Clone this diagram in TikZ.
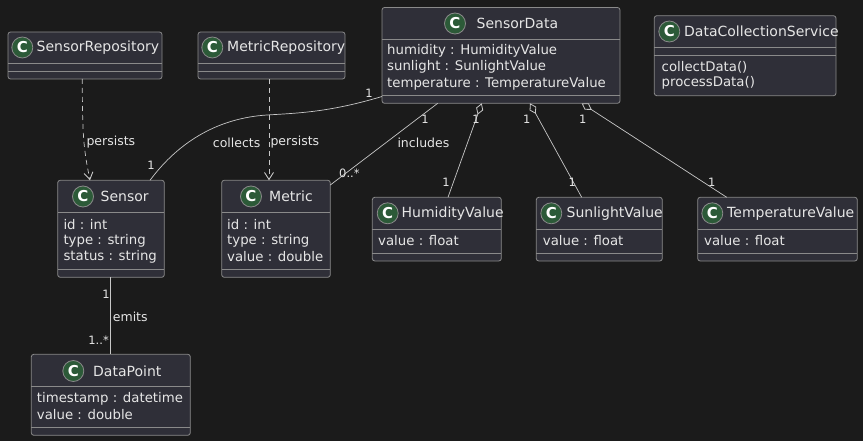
\documentclass[tikz,border=0pt]{standalone}
\usepackage{fontspec}
\setmainfont{DejaVu Sans}
\usetikzlibrary{arrows.meta}
\definecolor{bg}{HTML}{1B1B1B}
\definecolor{boxfill}{HTML}{2F2F38}
\definecolor{boxline}{HTML}{8A8A8A}
\definecolor{txt}{HTML}{E6E6E6}
\definecolor{conn}{HTML}{C8C8C8}
\definecolor{cgreen}{HTML}{2C5A38}
\tikzset{
  umlbox/.style={draw=boxline, fill=boxfill, line width=0.8pt, rounded corners=2.5pt},
  sepline/.style={draw=boxline, line width=0.8pt},
  ctitle/.style={text=txt, font=\fontsize{14}{16}\selectfont, anchor=west, inner sep=0pt},
  cattr/.style={text=txt, font=\fontsize{13.3}{15}\selectfont, anchor=west, inner sep=0pt},
  clabel/.style={text=txt, font=\fontsize{12.5}{14}\selectfont, inner sep=0pt},
  cmult/.style={text=txt, font=\fontsize{11.5}{13}\selectfont, inner sep=0pt},
  cicon/.style={circle, fill=cgreen, draw=boxline, line width=0.8pt, minimum size=21pt, inner sep=0pt, text=white, font=\fontsize{15}{15}\selectfont\bfseries},
  conline/.style={draw=conn, line width=0.7pt},
  dep/.style={draw=conn, line width=0.7pt, dash pattern=on 5pt off 4pt, -{Straight Barb[length=7pt,width=9pt,line width=0.9pt]}},
  agg/.style={draw=conn, line width=0.7pt, {Diamond[open, fill=bg, length=12pt, width=7.5pt, line width=0.8pt]}-},
}
\newcommand{\umlclass}[7]{% name, x1, y1, x2, y2, sep1, sep2
  \path[umlbox] (#2,#3) rectangle (#4,#5);
  \path[sepline] (#2,#6) -- (#4,#6);
  \path[sepline] (#2,#7) -- (#4,#7);
  \coordinate (#1) at ({(#2+#4)/2},{(#3+#5)/2});
}
\begin{document}
\begin{tikzpicture}[x=1pt,y=-1pt]
\path[fill=bg] (0,0) rectangle (863,441);
\useasboundingbox (0,0) rectangle (863,441);

% ---- classes ----
\umlclass{srepo}{8}{32}{162}{79}{63.3}{71.3}
\node[cicon] (srepoC) at (22.3,47.5) {C};
\node[ctitle] (srepoT) at (36.5,47.5) {SensorRepository};

\umlclass{mrepo}{198}{32}{345}{79}{63.3}{71.3}
\node[cicon] (mrepoC) at (212.3,47.5) {C};
\node[ctitle] (mrepoT) at (227,47.5) {MetricRepository};

\umlclass{sdata}{382}{7.5}{620}{103.3}{39.7}{95.7}
\node[cicon] (sdataC) at (455,23.5) {C};
\node[ctitle] (sdataT) at (476.5,23.5) {SensorData};
\node[cattr] (sdataA1) at (387,51) {humidity : HumidityValue};
\node[cattr] (sdataA2) at (387,67) {sunlight : SunlightValue};
\node[cattr] (sdataA3) at (387,83.5) {temperature : TemperatureValue};

\umlclass{dcs}{654.3}{15.7}{836}{95.7}{47.3}{55.3}
\node[cicon] (dcsC) at (669.3,31.5) {C};
\node[ctitle] (dcsT) at (684,31.5) {DataCollectionService};
\node[cattr] (dcsM1) at (661.5,67) {collectData()};
\node[cattr] (dcsM2) at (661.5,83) {processData()};

\umlclass{sensor}{57.7}{180.3}{164.3}{277.3}{212.3}{269.3}
\node[cicon] (sensorC) at (83,196.5) {C};
\node[ctitle] (sensorT) at (100.5,196.5) {Sensor};
\node[cattr] (sensorA1) at (63.3,225) {id : int};
\node[cattr] (sensorA2) at (63.3,241) {type : string};
\node[cattr] (sensorA3) at (63.3,257) {status : string};

\umlclass{metric}{221.7}{180.3}{330.3}{277.3}{212.3}{269.3}
\node[cicon] (metricC) at (251,196.5) {C};
\node[ctitle] (metricT) at (269,196.5) {Metric};
\node[cattr] (metricA1) at (227,225) {id : int};
\node[cattr] (metricA2) at (227,241) {type : string};
\node[cattr] (metricA3) at (227,257) {value : double};

\umlclass{dpoint}{31.3}{354.3}{190.3}{435.3}{386.3}{427.3}
\node[cicon] (dpointC) at (73.3,371) {C};
\node[ctitle] (dpointT) at (93,371) {DataPoint};
\node[cattr] (dpointA1) at (36.7,399) {timestamp : datetime};
\node[cattr] (dpointA2) at (36.7,415) {value : double};

\umlclass{hval}{372.3}{197.3}{501.3}{261}{229.3}{253}
\node[cicon] (hvalC) at (387.7,213.3) {C};
\node[ctitle] (hvalT) at (401.5,213.3) {HumidityValue};
\node[cattr] (hvalA1) at (378,241) {value : float};

\umlclass{slval}{536.3}{197.3}{662.3}{261}{229.3}{253}
\node[cicon] (slvalC) at (551.3,213.3) {C};
\node[ctitle] (slvalT) at (566.5,213.3) {SunlightValue};
\node[cattr] (slvalA1) at (542.7,241) {value : float};

\umlclass{tval}{697.7}{197.3}{857.3}{261}{229.3}{253}
\node[cicon] (tvalC) at (712.3,213.3) {C};
\node[ctitle] (tvalT) at (727,213.3) {TemperatureValue};
\node[cattr] (tvalA1) at (704,241) {value : float};

% ---- connector end points ----
\coordinate (p1a) at (82.3,79);   \coordinate (p1b) at (90,180.3);
\coordinate (p2a) at (269,79);    \coordinate (p2b) at (269,180.3);
\coordinate (c1a) at (382,96.5);  \coordinate (c1m) at (267,115); \coordinate (c1b) at (150,180.3);
\coordinate (i1a) at (437.7,103.3); \coordinate (i1b) at (330.3,185);
\coordinate (h1a) at (481.7,103.3); \coordinate (h1b) at (448,197.3);
\coordinate (s1a) at (530,103.3);   \coordinate (s1b) at (581.7,197.3);
\coordinate (t1a) at (581.7,103.3); \coordinate (t1b) at (726.7,197.3);
\coordinate (e1a) at (110.3,277.3); \coordinate (e1b) at (110.3,354.3);

% ---- connectors ----
\draw[dep] (p1a) .. controls (82.3,140) and (84,150) .. (p1b);
\draw[dep] (p2a) -- (p2b);
\draw[conline] (c1a) .. controls (330,112) and (300,113) .. (c1m) .. controls (220,118) and (180,140) .. (c1b);
\draw[conline] (i1a) -- (i1b);
\draw[agg] (h1a) -- (h1b);
\draw[agg] (s1a) -- (s1b);
\draw[agg] (t1a) -- (t1b);
\draw[conline] (e1a) -- (e1b);

% ---- labels ----
\node[clabel, anchor=west] (lp1) at (86.3,142.5) {persists};
\node[clabel, anchor=west] (lp2) at (270.3,142.5) {persists};
\node[clabel, anchor=west] (lcol) at (212.7,142.5) {collects};
\node[clabel, anchor=west] (linc) at (397.3,142.5) {includes};
\node[clabel, anchor=west] (lemi) at (112.7,316.5) {emits};

\node[cmult] (m1) at (369,93.3) {1};
\node[cmult] (m2) at (151,165.7) {1};
\node[cmult] (m3) at (425,119.3) {1};
\node[cmult, anchor=west] (m4) at (339,173.5) {0..*};
\node[cmult] (m5) at (476,119.3) {1};
\node[cmult] (m6) at (446,182) {1};
\node[cmult] (m7) at (526.7,119.3) {1};
\node[cmult] (m8) at (572.3,182) {1};
\node[cmult] (m9) at (582.7,119.3) {1};
\node[cmult] (m10) at (711.7,182) {1};
\node[cmult] (m11) at (106,294) {1};
\node[cmult, anchor=east] (m12) at (109,340) {1..*};
\end{tikzpicture}
\end{document}
